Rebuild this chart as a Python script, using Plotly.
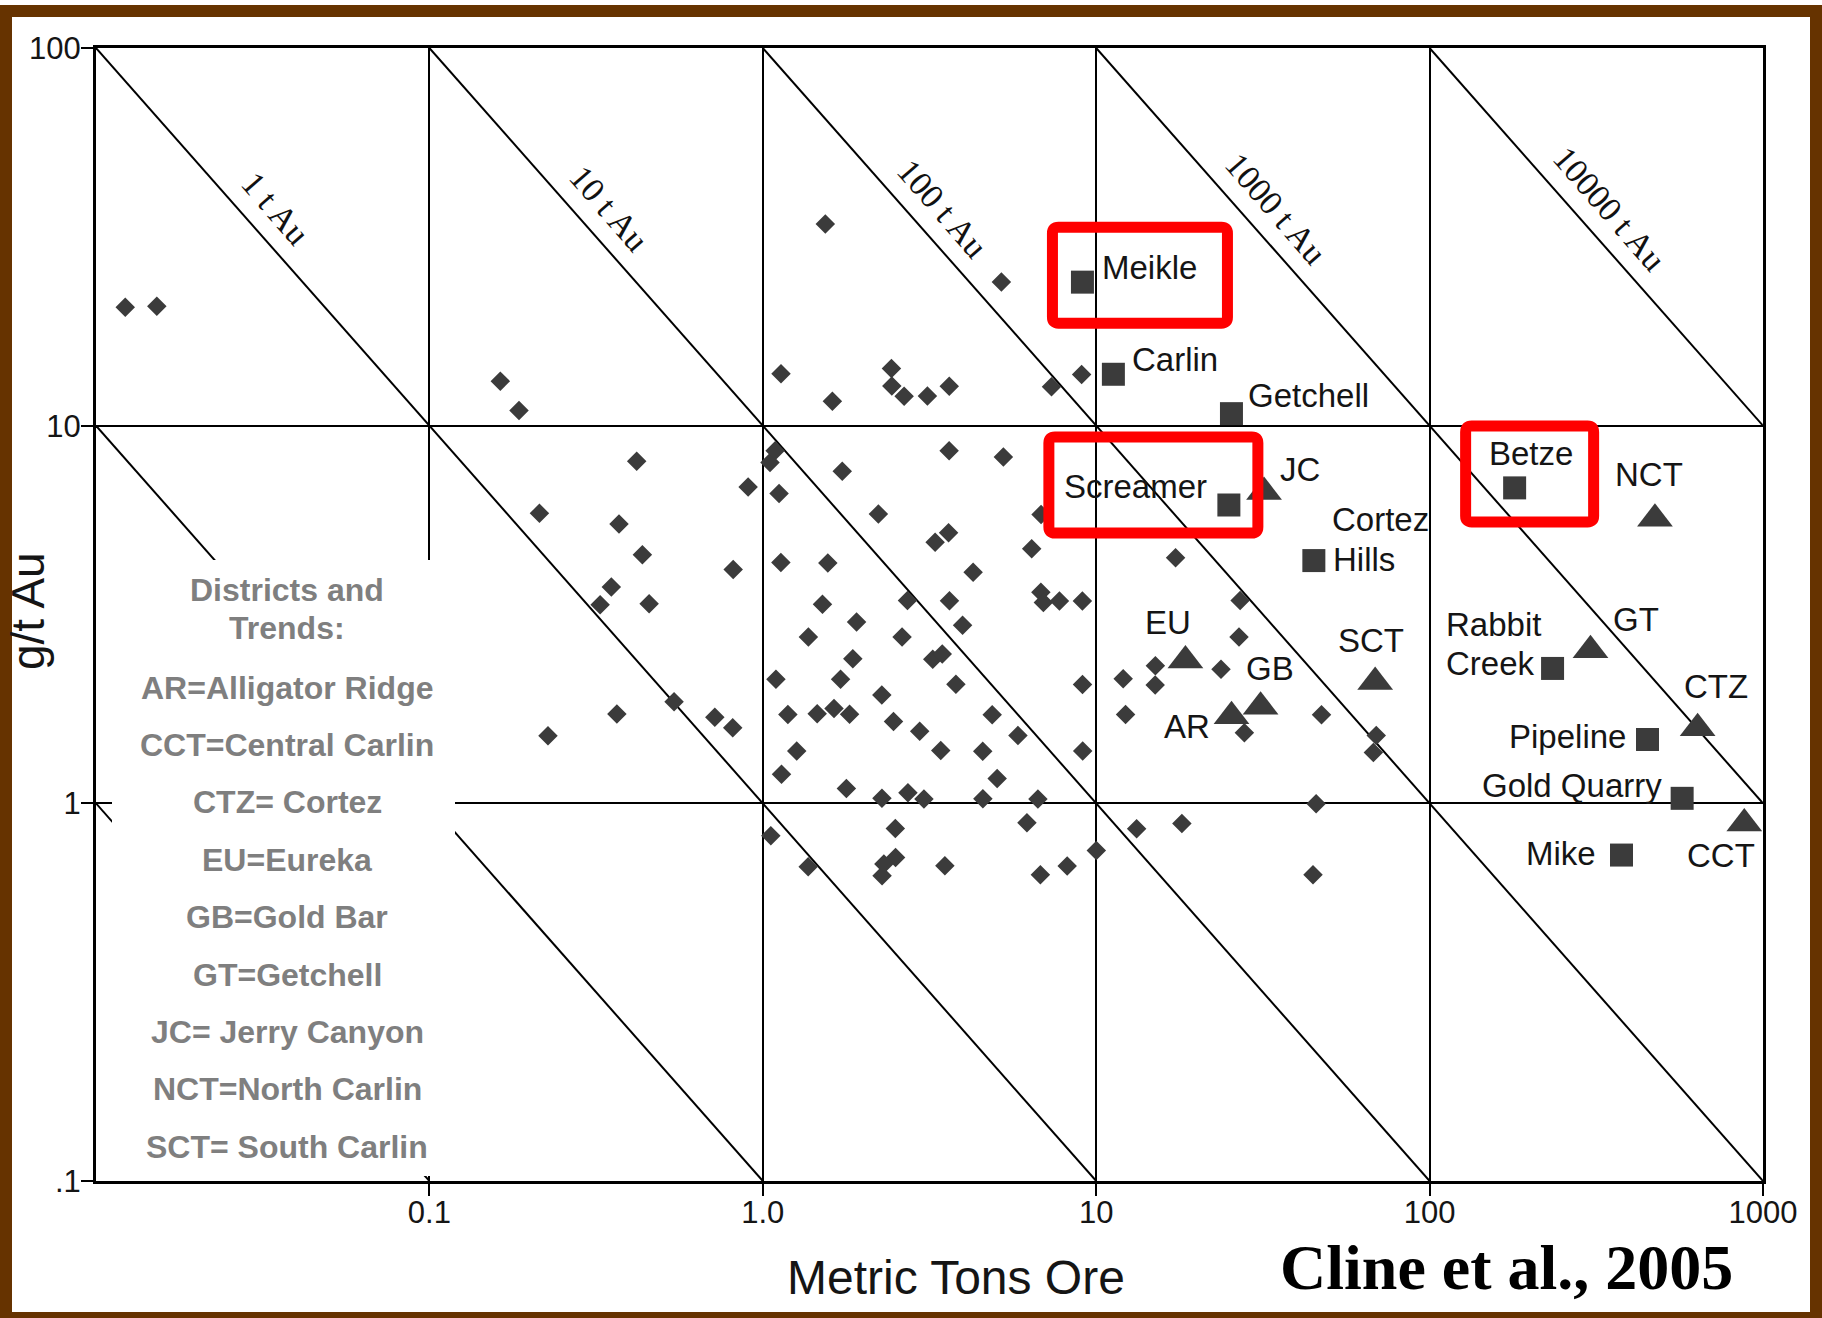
import math
import plotly.graph_objects as go

# ---------------------------------------------------------------------------
# Data: Carlin-type deposits, ore tonnage (million metric tons) vs grade (g/t Au)
# ---------------------------------------------------------------------------
deposit_ore_mt = [
    0.01224, 0.01522, 0.1632, 0.1857, 0.2138, 0.3704, 0.3513, 0.3252, 0.365, 0.2268,
    0.4185, 0.4353, 0.456, 0.5418, 0.718, 0.8124, 0.815, 0.9036, 1.051, 1.089,
    1.119, 1.134, 1.617, 1.54, 2.431, 2.438, 2.654, 3.117, 3.624, 5.195,
    7.344, 9.043, 1.731, 3.621, 5.268, 2.222, 6.834, 1.133, 1.567, 1.51,
    1.911, 1.37, 1.862, 1.095, 1.711, 1.189, 1.456, 1.635, 1.821, 1.264,
    1.138, 1.781, 2.275, 2.466, 2.955, 3.418, 2.277, 2.725, 3.043, 3.287,
    3.608, 2.716, 3.63, 4.275, 3.973, 2.616, 3.234, 3.453, 3.795, 4.875,
    5.824, 4.567, 5.046, 4.572, 6.686, 6.404, 6.825, 6.944, 7.757, 9.09,
    9.096, 9.11, 6.198, 2.497, 2.502, 2.308, 2.279, 3.516, 6.8, 8.184,
    10.01, 1.057, 1.368, 17.3, 27.02, 26.81, 15.05, 12.05, 15.03, 23.68,
    12.25, 27.82, 47.4, 69.18, 67.83, 45.67, 18.07, 13.22, 44.7,
]
deposit_grade_gt = [
    20.6, 20.7, 13.12, 10.97, 5.86, 5.49, 3.74, 3.354, 1.723, 1.51,
    8.05, 4.55, 3.374, 1.859, 1.69, 1.585, 4.16, 6.877, 7.99, 8.58,
    6.61, 13.73, 11.61, 34.18, 14.16, 12.74, 11.97, 11.99, 12.72, 24.0,
    12.68, 13.66, 7.574, 8.58, 8.262, 5.834, 5.819, 4.339, 4.329, 3.368,
    3.021, 2.757, 2.416, 2.132, 2.132, 1.72, 1.726, 1.784, 1.721, 1.375,
    1.194, 1.095, 1.935, 1.647, 1.551, 1.379, 1.031, 1.067, 1.027, 4.913,
    5.204, 3.444, 3.438, 4.094, 2.961, 2.755, 2.409, 2.486, 2.068, 1.717,
    1.513, 1.374, 1.164, 1.028, 1.026, 4.725, 3.623, 3.402, 3.433, 3.432,
    2.065, 1.375, 0.888, 0.858, 0.719, 0.691, 0.643, 0.683, 0.647, 0.682,
    0.75, 0.821, 0.679, 4.468, 3.445, 2.755, 2.312, 2.138, 2.059, 2.266,
    1.72, 1.537, 1.717, 1.512, 1.364, 0.997, 0.884, 0.856, 0.647,
]

# Named deposits (squares)
named_deposits = ["Meikle", "Carlin", "Getchell", "Screamer", "Cortez Hills",
                  "Betze", "Rabbit Creek", "Pipeline", "Gold Quarry", "Mike"]
named_ore_mt = [9.094, 11.26, 25.45, 25.0, 44.96, 179.9, 233.8, 450.4, 572.1, 376.3]
named_grade_gt = [23.99, 13.68, 10.76, 6.165, 4.393, 6.843, 2.276, 1.476, 1.031, 0.7295]

# Districts and trends (triangles)
trend_codes = ["JC", "EU", "GB", "AR", "SCT", "NCT", "GT", "CTZ", "CCT"]
trend_ore_mt = [31.87, 18.52, 31.12, 25.46, 68.66, 474.1, 303.8, 636.7, 878.8]
trend_grade_gt = [6.677, 2.388, 1.802, 1.700, 2.096, 5.67, 2.544, 1.58, 0.8845]

# Lines of constant contained gold (t Au = Mt ore x g/t)
contained_au_t = [0.01, 0.1, 1, 10, 100, 1000, 10000]
labelled_au_t = [1, 10, 100, 1000, 10000]
contained_labels = ["1 t Au", "10 t Au", "100 t Au", "1000 t Au", "10000 t Au"]

x_tick_vals = [0.1, 1, 10, 100, 1000]
x_tick_text = ["0.1", "1.0", "10", "100", "1000"]
y_tick_vals = [0.1, 1, 10, 100]
y_tick_text = [".1", "1", "10", "100"]

key_title = ["Districts and", "Trends:"]
key_lines = ["AR=Alligator Ridge", "CCT=Central Carlin", "CTZ= Cortez", "EU=Eureka",
             "GB=Gold Bar", "GT=Getchell", "JC= Jerry Canyon", "NCT=North Carlin",
             "SCT= South Carlin"]

highlighted = ["Meikle", "Screamer", "Betze"]

# ---------------------------------------------------------------------------
# Geometry of the page
# ---------------------------------------------------------------------------
W, H = 1822, 1318
ML, MR, MT, MB = 96, 59, 48, 137
PW, PH = W - ML - MR, H - MT - MB
X_LOG = (-2, 3)
Y_LOG = (-1, 2)

SANS = "Liberation Sans, Arial, sans-serif"
SERIF = "Liberation Serif, Times New Roman, serif"
INK = "#3b3b3b"


def px_x(X):
    return (X - ML) / PW


def px_y(Y):
    return 1 - (Y - MT) / PH


def paper_from_data(ore, grade):
    return ((math.log10(ore) - X_LOG[0]) / (X_LOG[1] - X_LOG[0]),
            (math.log10(grade) - Y_LOG[0]) / (Y_LOG[1] - Y_LOG[0]))


fig = go.Figure()

# constant-gold diagonals, clipped to the plotting frame
for t in contained_au_t:
    x0 = max(10 ** X_LOG[0], t / 10 ** Y_LOG[1])
    x1 = min(10 ** X_LOG[1], t / 10 ** Y_LOG[0])
    fig.add_trace(go.Scatter(x=[x0, x1], y=[t / x0, t / x1], mode="lines",
                             line=dict(color="black", width=2),
                             hoverinfo="skip", showlegend=False))

fig.add_trace(go.Scatter(x=deposit_ore_mt, y=deposit_grade_gt, mode="markers",
                         marker=dict(symbol="diamond", size=15, color=INK,
                                     line=dict(width=0)),
                         showlegend=False))
fig.add_trace(go.Scatter(x=named_ore_mt, y=named_grade_gt, mode="markers",
                         text=named_deposits,
                         marker=dict(symbol="square", size=23, color=INK,
                                     line=dict(width=0)),
                         showlegend=False))
fig.add_trace(go.Scatter(x=trend_ore_mt, y=trend_grade_gt, mode="markers",
                         text=trend_codes,
                         marker=dict(symbol="triangle-up", size=31, color=INK,
                                     line=dict(width=0)),
                         showlegend=False))

annotations = []
shapes = []

# point labels: (text, anchor, dx, dy) in screen pixels from the marker
label_layout = {
    "Meikle": [("Meikle", "left", 18, -15)],
    "Carlin": [("Carlin", "left", 17, -15)],
    "Getchell": [("Getchell", "left", 15, -18)],
    "Screamer": [("Screamer", "right", -20, -19)],
    "Cortez Hills": [("Cortez", "left", 16, -41), ("Hills", "left", 17, -1)],
    "Betze": [("Betze", "center", 16, -34)],
    "Rabbit Creek": [("Rabbit", "left", -109, -44), ("Creek", "left", -109, -5)],
    "Pipeline": [("Pipeline", "right", -20, -3)],
    "Gold Quarry": [("Gold Quarry", "right", -18, -13)],
    "Mike": [("Mike", "right", -23, -2)],
    "JC": [("JC", "left", 14, -22)],
    "EU": [("EU", "center", -17, -38)],
    "GB": [("GB", "center", 9, -38)],
    "AR": [("AR", "right", -20, 10)],
    "SCT": [("SCT", "center", -4, -41)],
    "NCT": [("NCT", "center", -6, -44)],
    "GT": [("GT", "left", 21, -31)],
    "CTZ": [("CTZ", "center", 18, -42)],
    "CCT": [("CCT", "center", -23, 32)],
}

points = list(zip(named_deposits, named_ore_mt, named_grade_gt)) + \
    list(zip(trend_codes, trend_ore_mt, trend_grade_gt))
for name, ore, grade in points:
    for text, anchor, dx, dy in label_layout[name]:
        annotations.append(dict(
            x=math.log10(ore), y=math.log10(grade), xref="x", yref="y",
            text=text, showarrow=False, xanchor=anchor, yanchor="middle",
            xshift=dx, yshift=-dy,
            font=dict(family=SANS, size=33, color="#151515")))

# labels running along the constant-gold lines
for t, lab in zip(labelled_au_t, contained_labels):
    g = 37.6
    annotations.append(dict(
        x=math.log10(t / g), y=math.log10(g), xref="x", yref="y",
        text=lab, showarrow=False, textangle=49, xshift=38,
        xanchor="center", yanchor="middle",
        font=dict(family=SERIF, size=34, color="#111111")))

# red highlight boxes around selected deposits (screen-pixel extents)
box_extent = {
    "Meikle": (-30, 145, -55, 41),
    "Screamer": (-180, 29, -68, 28),
    "Betze": (-49, 79, -62, 34),
}
rx, ry = 6 / PW, 6 / PH
for name in highlighted:
    i = named_deposits.index(name)
    cx, cy = paper_from_data(named_ore_mt[i], named_grade_gt[i])
    l, r, t, b = box_extent[name]
    x0, x1 = cx + l / PW, cx + r / PW
    yt, yb = cy - t / PH, cy - b / PH
    path = (f"M{x0 + rx},{yt} L{x1 - rx},{yt} Q{x1},{yt} {x1},{yt - ry} "
            f"L{x1},{yb + ry} Q{x1},{yb} {x1 - rx},{yb} "
            f"L{x0 + rx},{yb} Q{x0},{yb} {x0},{yb + ry} "
            f"L{x0},{yt - ry} Q{x0},{yt} {x0 + rx},{yt} Z")
    shapes.append(dict(type="path", path=path, xref="paper", yref="paper",
                       line=dict(color="#ff0000", width=11), layer="above"))

# white panel holding the district key
shapes.append(dict(type="rect", xref="paper", yref="paper",
                   x0=px_x(112), x1=px_x(455), y0=px_y(1176), y1=px_y(560),
                   fillcolor="white", line=dict(width=0), layer="above"))

key_rows = [590, 628] + [687.5 + 57.4 * k for k in range(len(key_lines))]
for text, yrow in zip(key_title + key_lines, key_rows):
    annotations.append(dict(
        x=px_x(287), y=px_y(yrow), xref="paper", yref="paper", text=text,
        showarrow=False, xanchor="center", yanchor="middle",
        font=dict(family=SANS, size=32, color="#7f7f7f", weight="bold")))

# axis titles and citation
annotations.append(dict(x=px_x(956), y=px_y(1277), xref="paper", yref="paper",
                        text="Metric Tons Ore", showarrow=False,
                        xanchor="center", yanchor="middle",
                        font=dict(family=SANS, size=48, color="#151515")))
annotations.append(dict(x=px_x(28), y=px_y(611), xref="paper", yref="paper",
                        text="g/t Au", showarrow=False, textangle=-90,
                        xanchor="center", yanchor="middle",
                        font=dict(family=SANS, size=46, color="#151515")))
annotations.append(dict(x=px_x(1506), y=px_y(1267), xref="paper", yref="paper",
                        text="Cline et al., 2005", showarrow=False,
                        xanchor="center", yanchor="middle",
                        font=dict(family=SERIF, size=64, color="black",
                                  weight="bold")))

# brown frame around the page
BROWN = "#663300"
for (a, b, c, d) in [(0, 12, 5, 1318), (0, 1822, 5, 17),
                     (1810, 1822, 5, 1318), (0, 1822, 1312, 1318)]:
    shapes.append(dict(type="rect", xref="paper", yref="paper",
                       x0=px_x(a), x1=px_x(b), y0=px_y(d), y1=px_y(c),
                       fillcolor=BROWN, line=dict(width=0), layer="above"))

axis_common = dict(type="log", showgrid=True, gridcolor="black", gridwidth=2,
                   showline=True, linecolor="black", linewidth=3, mirror=True,
                   ticks="outside", ticklen=12, tickwidth=2, tickcolor="black",
                   zeroline=False,
                   tickfont=dict(family=SANS, size=31, color="#151515"))

fig.update_layout(
    width=W, height=H, autosize=False,
    margin=dict(l=ML, r=MR, t=MT, b=MB, pad=0),
    paper_bgcolor="white", plot_bgcolor="white",
    xaxis=dict(range=list(X_LOG), tickvals=x_tick_vals, ticktext=x_tick_text,
               ticklabelstandoff=-10, **axis_common),
    yaxis=dict(range=list(Y_LOG), tickvals=y_tick_vals, ticktext=y_tick_text,
               ticklabelstandoff=-6, **axis_common),
    annotations=annotations, shapes=shapes, showlegend=False,
)

fig.write_html("out.html")
